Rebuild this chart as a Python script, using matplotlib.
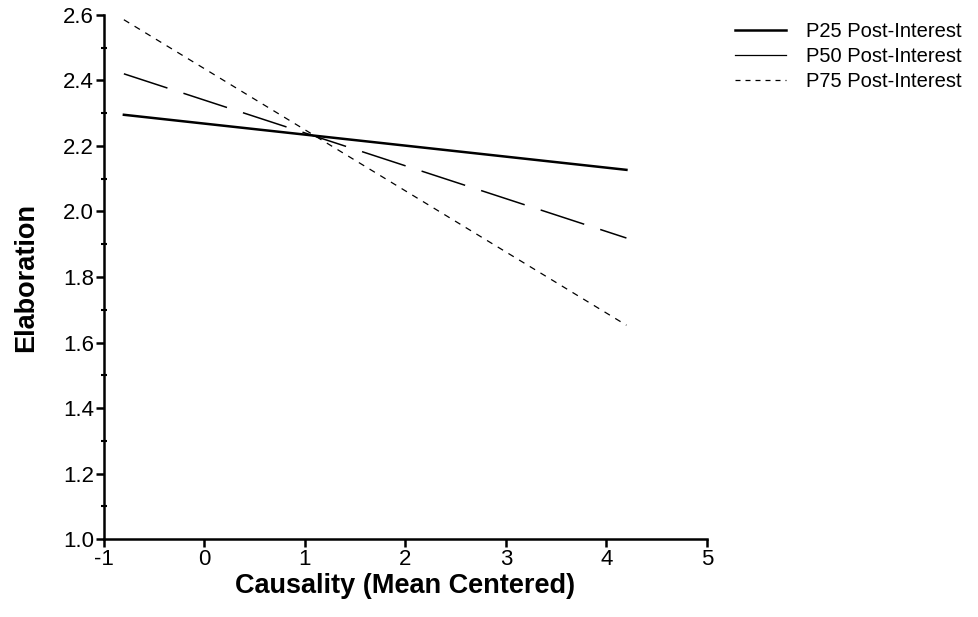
import matplotlib
matplotlib.use("Agg")
import matplotlib.pyplot as plt
from matplotlib.lines import Line2D
from matplotlib.ticker import MultipleLocator, FormatStrFormatter

plt.rcParams['font.family'] = ['Liberation Sans', 'DejaVu Sans']
plt.rcParams['axes.unicode_minus'] = False

# data
causality = [-0.8, 4.2]
p25 = [2.295, 2.127]
p50 = [2.42, 1.919]
p75 = [2.585, 1.653]
labels = ["P25 Post-Interest", "P50 Post-Interest", "P75 Post-Interest"]

fig = plt.figure(figsize=(9.79, 6.17), dpi=100)
ax = fig.add_axes([0.106, 0.126, 0.616, 0.85])

ax.plot(causality, p25, color='black', lw=1.8)
ax.plot(causality, p50, color='black', lw=1.1, dashes=(30, 11))
ax.plot(causality, p75, color='black', lw=0.9, dashes=(5, 5))

ax.set_xlim(-1, 5)
ax.set_ylim(1.0, 2.6)
ax.set_xticks(range(-1, 6))
ax.yaxis.set_major_locator(MultipleLocator(0.2))
ax.yaxis.set_minor_locator(MultipleLocator(0.1))
ax.yaxis.set_major_formatter(FormatStrFormatter('%.1f'))

for s in ['top', 'right']:
    ax.spines[s].set_visible(False)
for s in ['left', 'bottom']:
    ax.spines[s].set_linewidth(1.8)

ax.tick_params(axis='both', which='major', direction='out', length=6, width=1.8,
               labelsize=16, pad=1)
ax.tick_params(axis='y', which='minor', direction='inout', length=5, width=1.5)

ax.set_xlabel("Causality (Mean Centered)", fontsize=19.5, fontweight='bold', labelpad=2)
ax.set_ylabel("Elaboration", fontsize=19.5, fontweight='bold', labelpad=17)

handles = [
    Line2D([], [], color='black', lw=1.8),
    Line2D([], [], color='black', lw=0.9),
    Line2D([], [], color='black', lw=0.9, dashes=(4, 4)),
]
fig.legend(handles, labels, loc='upper left', bbox_to_anchor=(0.751, 0.965),
           frameon=False, fontsize=14.5, handlelength=2.5, labelspacing=0.3,
           handletextpad=1.0, borderpad=0, borderaxespad=0)

fig.savefig("out.png", dpi=100)
